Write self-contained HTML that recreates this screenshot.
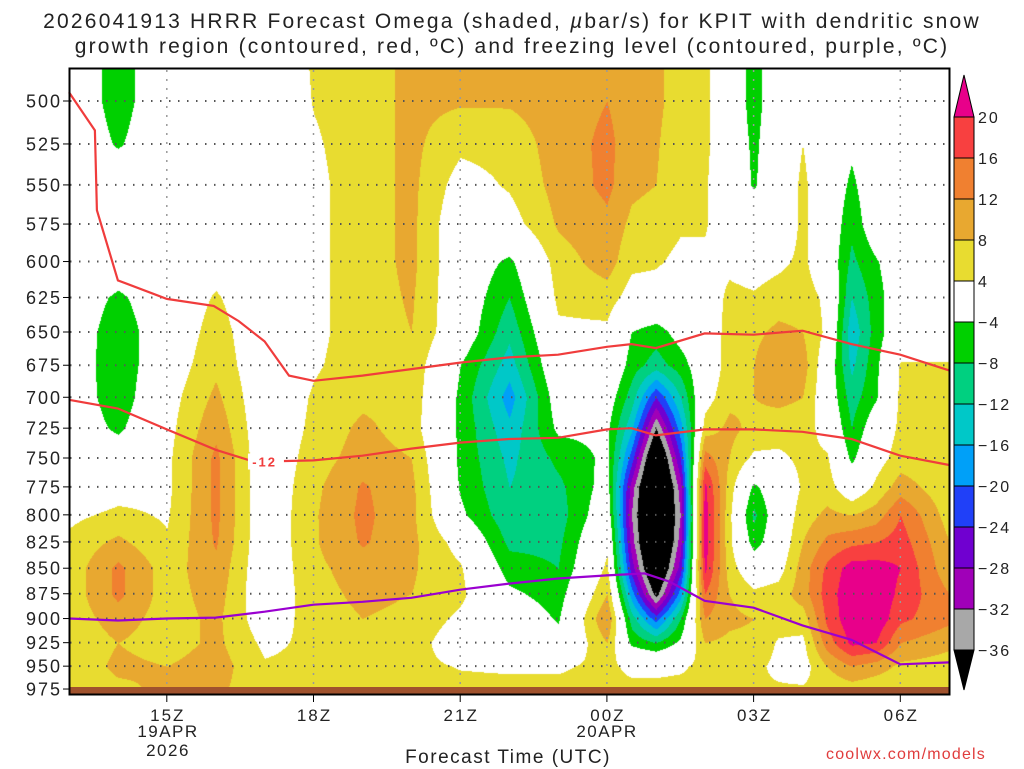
<!DOCTYPE html>
<html><head><meta charset="utf-8"><style>
body{margin:0;background:#fff;width:1024px;height:768px;overflow:hidden;position:relative;font-family:"Liberation Sans",sans-serif}
canvas{position:absolute;left:70px;top:69px}
svg{position:absolute;left:0;top:0}
svg text{letter-spacing:2px}
</style></head><body>
<canvas id="cv" width="880" height="620"></canvas>
<svg id="sv" width="1024" height="768"></svg>
<script>
const levels=[475,500,525,550,575,600,625,650,675,700,725,750,775,800,825,850,875,900,925,950,975];
const times=[13,14,15,16,17,18,19,20,21,22,23,24,24.5,25,25.5,26,26.5,27,27.5,28,28.5,29,29.5,30,31];
const omega=[
[0,0,0,0,0,0,0,0,0,0,0,0,0,3,5,5.5,5.5,5.5,5,5,4.5],
[-6,-6,-4.5,0,0,0,-5,-7,-7.5,-7,-5,0,2,5,9,13,13,10,8,9,7],
[0,0,0,0,0,0,0,0,1,2,2.5,3,3,3.5,4.5,6,6,6,6,8,9],
[0,0,0,0,0,2,4.5,6,7,9,11,13,13,13,12.5,11,10,9,9,10,9],
[0,0,0,0,0,0,0,0,0,0,0,0,0,0,0,0,0,1,3,4.5,5],
[4.5,4.2,3.5,3,3,3,3,3,3.5,4.5,5,6,7,7.5,7.5,7,6.5,6,5,5,5],
[6,6,6,6,6,6,6,6,6,7,9,10,12.5,13,12.5,10,9,8,7,6,5],
[9,9,9,9,9,9,8.5,8,7,6.5,6,8,9,9,9,8.5,8,7,6,5,4.5],
[9,8.5,5,2,0,0,0,0,-4,-5,-5,-5,-4.5,-3,2,4.5,5,3,1,3.8,5],
[9.5,8.5,5.5,4.5,2,-5,-8,-11,-14,-18,-15,-13,-12,-11,-9,-6,-3,0,1,3.5,5],
[10,10,10,9.5,8.5,6,5,3,1,-1,-3,-7,-9,-10,-9,-8,-6,-4.5,-2,3.5,5],
[10,12,13,13,11,10,6,3,2,-1,-3,-3,-2,0,3,5,8,12,8,5,5],
[9,10,10,9,7,5,2,-4,-6,-10,-15,-22,-30,-32,-30,-26,-18,-10,-5,3,5],
[9,9,8.5,8,6,4.5,2,-6,-10,-24,-36,-46,-50,-50,-50,-46,-38,-22,-8,3,5],
[6,6,5,5,4.5,3,0,-2,-6,-12,-18,-24,-30,-32,-30,-26,-18,-8,-3,3.5,5],
[5,5,5,4.5,4.5,3,1,0,0,2,6,14,21,22,22,21,16,12,8,5,4.5],
[0,0,0,0,0,3,5,6,6,7,9,8,6,5,5,6,8,9,7,5,4.5],
[-6,-6,-5,-4.5,0,2,4.5,7,8,8,7,3,-5,-9,-6,0,5,8,7,5,4.5],
[0,0,0,0,0,3,6,9,12,9,6,3,0,0,0,2,6,6,3.5,3,4.5],
[0,0,4,5,5,5,6,8,10,8,6,5,4.5,6,8,10,10,6,3,2,4.5],
[0,0,0,0,0,0,3,3,0,0,2,4.5,6,9,13,17,18,17,14,8,5],
[0,0,-3,-5,-7,-9,-12,-15,-13,-10,-8,-5,0,8,15,22,23,23,21,12,6],
[0,0,0,0,0,-4.5,-6,-6,-5,-4.5,0,2,5,10,16,22,23,23,20,10,5],
[0,0,0,0,0,0,0,0,4.5,5,5,6,10,16,18,20,19,17,12,7,5],
[0,0,0,0,0,0,0,0,4.5,5,5,5,5,6,8,9,12,13,9,6,5]];
const upperT=[13,13.53,13.57,14,15,15.96,16.47,17,17.5,18,19,20,21,22,23,24,24.5,25,26,27,28,29,30,31];
const upperP=[495,517,566,613,626,631,642,657,683,687,683,678,673,669,667,661,659,662,651,652,649,659,667,679];
const lowerT=[13,14,15,16,16.7,17,18,19,20,21,22,23,24,24.5,25,26,27,28,29,30,31];
const lowerP=[702,709,726,743,752,753,752,748,742,737,734,733,726,725,731,726,726,728,734,748,756];
const frzT=[13,14,15,16,17,18,19,20,21,22,23,24,24.77,25.28,26,27,28,29,30,31];
const frzP=[900,902,900,899,893,886,883,879,871,865,860,857,855,863,882,889,907,922,948,946];
const cbLabels=["20","16","12","8","4","-4","-8","-12","-16","-20","-24","-28","-32","-36"];
const pTicks=[500,525,550,575,600,625,650,675,700,725,750,775,800,825,850,875,900,925,950,975];
const tTicks=[15,18,21,24,27,30];
const tLabels=["15Z","18Z","21Z","00Z","03Z","06Z"];

const cols=["#e8008a","#f84040","#f08030","#e8a830","#e8dc30","#ffffff","#00d000","#00d080","#00c8c8","#00a0f8","#2040f8","#7000d0","#a000b8","#a8a8a8","#000000"];
const thr=[20,16,12,8,4,-4,-8,-12,-16,-20,-24,-28,-32,-36];
function xOf(t){return 69+(t-13)*48.9;}
function yOf(p){return 101+Math.log(p/500)/0.6678*588;}
function colorOf(v){for(let i=0;i<thr.length;i++){if(v>=thr[i])return cols[i];}return cols[14];}
function rgb(h){return [parseInt(h.substr(1,2),16),parseInt(h.substr(3,2),16),parseInt(h.substr(5,2),16)];}
const cv=document.getElementById('cv'),cx=cv.getContext('2d');
const img=cx.createImageData(880,620);
const yl=levels.map(yOf);
for(let py=0;py<620;py++){
 const Y=py+69;let r=0;while(r<levels.length-2&&yl[r+1]<Y)r++;
 let fy=(Y-yl[r])/(yl[r+1]-yl[r]);fy=Math.max(0,Math.min(1,fy));
 for(let px=0;px<880;px++){
  const t=13+(px+70-69)/48.9;let c=0;while(c<times.length-2&&times[c+1]<t)c++;
  let fx=(t-times[c])/(times[c+1]-times[c]);fx=Math.max(0,Math.min(1,fx));
  const v=(omega[c][r]*(1-fx)+omega[c+1][r]*fx)*(1-fy)+(omega[c][r+1]*(1-fx)+omega[c+1][r+1]*fx)*fy;
  const k=rgb(colorOf(v));const i=(py*880+px)*4;
  img.data[i]=k[0];img.data[i+1]=k[1];img.data[i+2]=k[2];img.data[i+3]=255;
 }
}
cx.putImageData(img,0,0);
const NS="http://www.w3.org/2000/svg",sv=document.getElementById('sv');
function mk(tag,attrs,txt){const e=document.createElementNS(NS,tag);for(const k in attrs)e.setAttribute(k,attrs[k]);if(txt!==undefined)e.textContent=txt;sv.appendChild(e);return e;}
pTicks.forEach(p=>{const y=yOf(p);
 const g=mk('line',{x1:70,x2:949,y1:y,y2:y,stroke:'#555','stroke-width':2,'stroke-dasharray':'1.5 7.5'});
 
 const tk=mk('line',{x1:63,x2:69,y1:y,y2:y,stroke:'#000','stroke-width':1});
 
 const l=mk('text',{x:62,y:y+6.5,'text-anchor':'end','font-size':18,fill:'#222'},String(p));
 
});
tTicks.forEach((t,i)=>{const x=xOf(t);
 const g=mk('line',{x1:x,x2:x,y1:70,y2:688,stroke:'#999','stroke-width':1.5,'stroke-dasharray':'2 7'});
 
 const tk=mk('line',{x1:x,x2:x,y1:695,y2:702,stroke:'#000','stroke-width':1});
 
 const l=mk('text',{x:x+1,y:721,'text-anchor':'middle','font-size':17,fill:'#222'},tLabels[i]);
 
});
function line(T,P,color,name){const d=T.map((t,i)=>(i?'L':'M')+xOf(t).toFixed(1)+' '+yOf(P[i]).toFixed(1)).join(' ');
 const e=mk('path',{d:d,fill:'none',stroke:color,'stroke-width':2.2});
 }
line(upperT,upperP,'#f03c3c','upper-dgz-contour');
line(lowerT,lowerP,'#f03c3c','lower-dgz-contour');
line(frzT,frzP,'#9a00d0','freezing-level-contour');
const bg=mk('rect',{x:xOf(16.7)-2,y:yOf(753)-8,width:36,height:16,fill:'#fff'});

const cl=mk('text',{x:xOf(17),y:yOf(753)+5,'text-anchor':'middle','font-size':13,'font-weight':'bold',fill:'#f03c3c'},'-12');

const gr=mk('rect',{x:70,y:687,width:879,height:7,fill:'#a0522d'});

const fr=mk('rect',{x:69.5,y:68.5,width:880,height:626,fill:'none',stroke:'#000','stroke-width':2});

const segH=41,top0=117;
const tri1=mk('polygon',{points:`954,${top0} 974,${top0} 964,75`,fill:cols[0],stroke:'#000','stroke-width':1});

for(let i=1;i<14;i++){const r=mk('rect',{x:954,y:top0+(i-1)*segH,width:20,height:segH,fill:cols[i],stroke:'#000','stroke-width':1});
 }
const yb=top0+13*segH;
const tri2=mk('polygon',{points:`954,${yb} 974,${yb} 964,690`,fill:'#000',stroke:'#000','stroke-width':1});

cbLabels.forEach((s,i)=>{const l=mk('text',{x:978,y:top0+i*segH+6,'font-size':16,fill:'#222'},s.replace('-','\u2212'));
 });
</script>
<div style="position:absolute;left:0;width:1024px;top:9px;text-align:center;font-size:21px;line-height:25px;color:#222;letter-spacing:2.2px">2026041913 HRRR Forecast Omega (shaded, <i>µ</i>bar/s) for KPIT with dendritic snow<br>growth region (contoured, red, ºC) and freezing level (contoured, purple, ºC)</div>
<div style="position:absolute;left:118px;width:100px;top:722px;text-align:center;font-size:17px;line-height:19px;letter-spacing:1.5px;color:#222">19APR<br>2026</div>
<div style="position:absolute;left:557px;width:100px;top:722px;text-align:center;font-size:17px;line-height:19px;letter-spacing:1.5px;color:#222">20APR</div>
<div style="position:absolute;left:358px;width:300px;top:747px;text-align:center;font-size:19px;letter-spacing:1.5px;color:#222">Forecast Time (UTC)</div>
<div style="position:absolute;left:826px;top:746px;font-size:16px;color:#e03c3c;letter-spacing:1.2px">coolwx.com/models</div>
</body></html>
